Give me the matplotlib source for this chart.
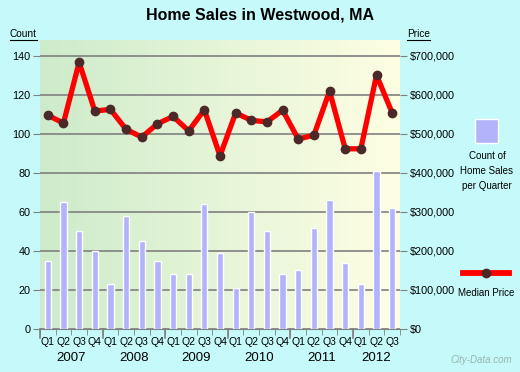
import numpy as np
import matplotlib
matplotlib.use("Agg")
import matplotlib.pyplot as plt
from matplotlib.lines import Line2D
from matplotlib.patches import Rectangle
from matplotlib.ticker import FuncFormatter
from matplotlib.colors import LinearSegmentedColormap
import matplotlib.transforms as mtransforms

plt.rcParams['font.family'] = ['Liberation Sans', 'DejaVu Sans']

quarters = ["Q1", "Q2", "Q3", "Q4"] * 5 + ["Q1", "Q2", "Q3"]
years = ["2007", "2008", "2009", "2010", "2011", "2012"]
year_of = [y for y in years[:5] for _ in range(4)] + ["2012"] * 3
counts = [35, 65, 50, 40, 23, 58, 45, 35, 28, 28, 64, 39,
          21, 60, 50, 28, 30, 52, 66, 34, 23, 81, 62]
prices = [548000, 528000, 684000, 559000, 563000, 512000, 492000, 526000,
          545000, 508000, 562000, 444000, 554000, 535000, 531000, 561000,
          487000, 497000, 610000, 462000, 462000, 651000, 554000]

W, H = 520, 372
fig = plt.figure(figsize=(W / 100, H / 100), dpi=100)
bg = "#c6fafa"
fig.patch.set_facecolor(bg)

ax = fig.add_axes([40 / W, (H - 329) / H, 360 / W, 289 / H])
n = len(counts)
x = np.arange(n)
ax.set_xlim(-0.5, n - 0.5)
ymax = 148.2
ax.set_ylim(0, ymax)

# gradient background
grad = np.linspace(0, 1, 256).reshape(1, -1)
cmap = LinearSegmentedColormap.from_list("g", ["#cdebca", "#e6f5d8", "#fefee2"])
ax.imshow(grad, aspect="auto", cmap=cmap, extent=(-0.5, n - 0.5, 0, ymax),
          zorder=0)

grid_color = "#808080"
ax.set_yticks(np.arange(0, 141, 20))
ax.yaxis.grid(True, color=grid_color, linewidth=1.2, zorder=1)
ax.set_axisbelow(True)
for s in ["top", "left", "right"]:
    ax.spines[s].set_visible(False)
ax.spines["bottom"].set_color(grid_color)
ax.tick_params(axis="y", length=5, color=grid_color, labelsize=7.8, pad=2,
               labelcolor="black")

ax.bar(x, counts, width=0.4, color="#b3b3fb", edgecolor="white",
       linewidth=1, zorder=2)

# x ticks
ax.set_xticks(x)
ax.set_xticklabels(quarters, fontsize=7.5)
ax.tick_params(axis="x", which="major", length=0, pad=6)
ax.set_xticks(np.arange(-0.5, n, 1.0), minor=True)
ax.tick_params(axis="x", which="minor", length=4, color=grid_color)
trans = mtransforms.blended_transform_factory(ax.transData, ax.transAxes)
for yr in years:
    idx = [i for i, y in enumerate(year_of) if y == yr]
    b = idx[0] - 0.5
    ax.plot([b, b], [0, -0.03], color=grid_color, lw=1.2, transform=trans,
            clip_on=False)
    ax.text(np.mean(idx), -0.08, yr, transform=trans, ha="center", va="top",
            fontsize=9.5)

ax2 = ax.twinx()
ax2.set_ylim(0, ymax * 5000)
ax2.set_yticks(np.arange(0, 700001, 100000))
ax2.yaxis.set_major_formatter(FuncFormatter(lambda v, p: "${:,.0f}".format(v)))
for s in ["top", "left", "right", "bottom"]:
    ax2.spines[s].set_visible(False)
ax2.tick_params(axis="y", length=5, color=grid_color, labelsize=7.8, pad=2)
ax2.plot(x, prices, color="#ff0000", lw=3.8, marker="o", markersize=6,
         markerfacecolor="#4d2828", markeredgecolor="#4d2828", zorder=3)

fig.text(0.5, 1 - 15 / H, "Home Sales in Westwood, MA", ha="center",
         va="center", fontsize=11.5, fontweight="bold")
t1 = fig.text(10 / W, 1 - 34 / H, "Count", ha="left", va="center", fontsize=7.3)
t2 = fig.text(407 / W, 1 - 34 / H, "Price", ha="left", va="center", fontsize=7.3)

# legend
fig.add_artist(Rectangle((475 / W, 1 - 143 / H), 23 / W, 24 / H,
                         transform=fig.transFigure, facecolor="#b3b3fb",
                         edgecolor="white", lw=1))
fig.text(487 / W, 1 - 171 / H, "Count of\nHome Sales\nper Quarter",
         ha="center", va="center", fontsize=7, linespacing=1.6)
fig.add_artist(Line2D([463 / W, 509 / W], [1 - 273 / H, 1 - 273 / H],
                      transform=fig.transFigure, color="#ff0000", lw=4.2))
fig.add_artist(Line2D([486 / W], [1 - 273 / H], transform=fig.transFigure,
                      marker="o", markersize=6, color="#4d2828"))
fig.text(486 / W, 1 - 293 / H, "Median Price", ha="center", va="center",
         fontsize=7)
fig.text(512 / W, 1 - 360 / H, "City-Data.com", ha="right", va="center",
         fontsize=7, color="#9ab4b4", style="italic")

fig.canvas.draw()
r = fig.canvas.get_renderer()
for t in (t1, t2):
    bb = t.get_window_extent(r).transformed(fig.transFigure.inverted())
    fig.add_artist(Line2D([bb.x0, bb.x1], [bb.y0 - 0.002, bb.y0 - 0.002],
                          transform=fig.transFigure, color="black", lw=0.8))

fig.savefig("out.png", dpi=100, facecolor=bg)
